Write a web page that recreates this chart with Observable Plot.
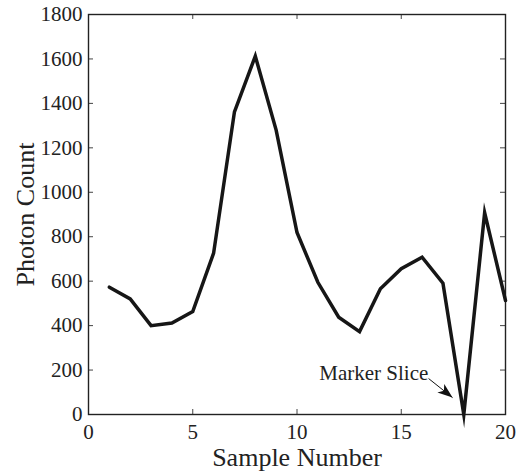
<!DOCTYPE html>
<html>
<head>
<meta charset="utf-8">
<script src="https://cdn.jsdelivr.net/npm/d3@7"></script>
<script src="https://cdn.jsdelivr.net/npm/@observablehq/plot@0.6"></script>
<style>
  html, body { margin: 0; padding: 0; background: #fff; }
</style>
</head>
<body>
<div id="chart"></div>
<script>
const sampleNumbers = [1, 2, 3, 4, 5, 6, 7, 8, 9, 10, 11, 12, 13, 14, 15, 16, 17, 18, 19, 20];
const photonCounts = [573, 520, 400, 412, 463, 726, 1362, 1613, 1280, 819, 595, 438, 373, 566, 656, 708, 591, 0, 908, 513];
const xTicks = [0, 5, 10, 15, 20];
const yTicks = [0, 200, 400, 600, 800, 1000, 1200, 1400, 1600, 1800];
const xLabel = "Sample Number";
const yLabel = "Photon Count";
const annotationText = ["Marker Slice"];
const annotationTextPos = [{x: 16.3, y: 184}];
const annotationArrow = [{x1: 16.31, y1: 162, x2: 17.46, y2: 76}];

const data = sampleNumbers.map((s, i) => ({s, c: photonCounts[i]}));

const W = 517, H = 474;
const mL = 88, mR = 12, mT = 14, mB = 60;
const fw = W - mL - mR, fh = H - mT - mB;
const tickLen = 5;
const serif = "'Liberation Serif', Tinos, 'Noto Serif', 'Nimbus Roman', 'Times New Roman', FreeSerif, 'DejaVu Serif', serif";

const filledArrow = (color, context) => {
  const m = document.createElementNS("http://www.w3.org/2000/svg", "marker");
  m.setAttribute("viewBox", "-15 -6 16 12");
  m.setAttribute("markerUnits", "userSpaceOnUse");
  m.setAttribute("markerWidth", "16");
  m.setAttribute("markerHeight", "12");
  m.setAttribute("orient", "auto");
  m.setAttribute("refX", "0");
  m.setAttribute("refY", "0");
  const p = document.createElementNS("http://www.w3.org/2000/svg", "path");
  p.setAttribute("d", "M0,0L-15,-5.5L-11,0L-15,5.5Z");
  p.setAttribute("fill", "#111");
  p.setAttribute("stroke", "none");
  m.appendChild(p);
  return m;
};

const arrowMark = Plot.link(annotationArrow, {x1: "x1", y1: "y1", x2: "x2", y2: "y2", stroke: "#111", strokeWidth: 1, markerEnd: filledArrow});

const chart = Plot.plot({
  width: W,
  height: H,
  marginLeft: mL,
  marginRight: mR,
  marginTop: mT,
  marginBottom: mB,
  style: {fontFamily: serif, fontSize: "20px", background: "#fff", color: "#222"},
  x: {domain: [0, 20]},
  y: {domain: [0, 1800]},
  marks: [
    Plot.axisX({ticks: xTicks, tickFormat: d3.format("d"), tickSize: 0, tickPadding: 10, label: null, fontSize: 21, fontFamily: serif, color: "#222"}),
    Plot.axisY({ticks: yTicks, tickFormat: d3.format("d"), tickSize: 0, tickPadding: 6, label: null, fontSize: 21, fontFamily: serif, color: "#222"}),
    Plot.tickX(xTicks, {x: d => d, insetTop: fh - tickLen, stroke: "#444", strokeWidth: 1}),
    Plot.tickX(xTicks, {x: d => d, insetBottom: fh - tickLen, stroke: "#444", strokeWidth: 1}),
    Plot.tickY(yTicks, {y: d => d, insetRight: fw - tickLen, stroke: "#444", strokeWidth: 1}),
    Plot.tickY(yTicks, {y: d => d, insetLeft: fw - tickLen, stroke: "#444", strokeWidth: 1}),
    Plot.frame({stroke: "#222", strokeWidth: 1.4}),
    Plot.line(data, {x: "s", y: "c", stroke: "#161616", strokeWidth: 3.5, strokeLinejoin: "miter", strokeMiterlimit: 10}),
    Plot.text(annotationText, {x: () => annotationTextPos[0].x, y: () => annotationTextPos[0].y, text: d => d, textAnchor: "end", fontSize: 21, fontFamily: serif, fill: "#222"}),
    arrowMark,
    Plot.text([xLabel], {frameAnchor: "bottom", text: d => d, textAnchor: "middle", lineAnchor: "bottom", dy: 51, fontSize: 26, fontFamily: serif, fill: "#222"}),
    Plot.text([yLabel], {frameAnchor: "left", text: d => d, textAnchor: "middle", rotate: -90, lineAnchor: "bottom", dx: -55, fontSize: 26, fontFamily: serif, fill: "#222"})
  ]
});
document.getElementById("chart").appendChild(chart);
</script>
</body>
</html>
